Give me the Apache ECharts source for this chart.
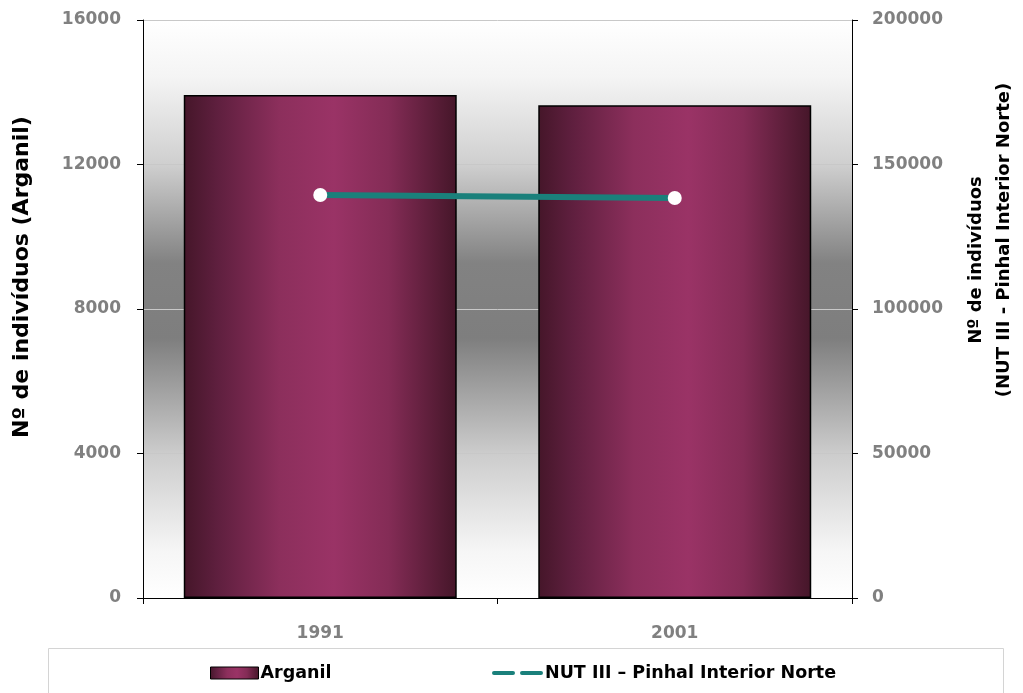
<!DOCTYPE html>
<html>
<head>
<meta charset="utf-8">
<script src="https://cdn.jsdelivr.net/npm/echarts@6/dist/echarts.min.js"></script>
<style>
  html, body { margin: 0; padding: 0; background: #ffffff; }
  #chart { width: 1023px; height: 693px; }
</style>
</head>
<body>
<div id="chart"></div>
<script>
// Census years and population counts
const years = ['1991', '2001'];
const arganil = [13926, 13640];               // left axis
const pinhalInteriorNorte = [139450, 138400]; // right axis
const leftTicks = { min: 0, max: 16000, interval: 4000 };
const rightTicks = { min: 0, max: 200000, interval: 50000 };

const chart = echarts.init(document.getElementById('chart'));

const barFill = new echarts.graphic.LinearGradient(0, 0, 1, 0, [
  { offset: 0, color: '#451629' },
  { offset: 0.12, color: '#5e1f3e' },
  { offset: 0.35, color: '#8c2f5c' },
  { offset: 0.55, color: '#9a3366' },
  { offset: 0.75, color: '#842c56' },
  { offset: 1, color: '#451629' }
]);

const plotFill = new echarts.graphic.LinearGradient(0, 0, 0, 1, [
  { offset: 0, color: '#ffffff' },
  { offset: 0.1, color: '#f4f4f4' },
  { offset: 0.25, color: '#cfcfcf' },
  { offset: 0.42, color: '#828282' },
  { offset: 0.55, color: '#7e7e7e' },
  { offset: 0.75, color: '#cccccc' },
  { offset: 0.92, color: '#f6f6f6' },
  { offset: 1, color: '#ffffff' }
]);

const tickFont = { color: '#808080', fontFamily: 'DejaVu Sans', fontWeight: 'bold', fontSize: 17 };
const plain = v => String(v);
const titleStyle = (text, size) => ({
  text, align: 'center', verticalAlign: 'middle',
  fill: '#000000', fontFamily: 'DejaVu Sans', fontWeight: 'bold', fontSize: size
});
const legendText = { color: '#000', fontFamily: 'DejaVu Sans', fontWeight: 'bold', fontSize: 17.5, padding: [0, 0, 0, -3] };

chart.setOption({
  animation: false,
  backgroundColor: '#ffffff',
  grid: {
    left: 143, right: 171, top: 20, bottom: 95,
    show: true, backgroundColor: plotFill, borderWidth: 0
  },
  legend: [
    {
      left: 210, top: 664, padding: 0,
      itemWidth: 48, itemHeight: 12,
      textStyle: legendText,
      data: [{ name: 'Arganil', icon: 'rect', itemStyle: { color: barFill, borderColor: '#000', borderWidth: 1 } }]
    },
    {
      left: 492, top: 664, padding: 0,
      itemWidth: 51, itemHeight: 5,
      textStyle: legendText,
      data: [{
        name: 'NUT III – Pinhal Interior Norte',
        icon: 'path://M2,0 L21,0 A2,2 0 0 1 21,4 L2,4 A2,2 0 0 1 2,0 Z M30,0 L49,0 A2,2 0 0 1 49,4 L30,4 A2,2 0 0 1 30,0 Z',
        itemStyle: { color: '#1a807b', borderWidth: 0 }
      }]
    }
  ],
  graphic: [
    {
      type: 'rect', silent: true, z: -1,
      shape: { x: 48.5, y: 648.5, width: 955, height: 60 },
      style: { fill: '#ffffff', stroke: '#d4d4d4', lineWidth: 1 }
    },
    { type: 'text', rotation: Math.PI / 2, x: 22, y: 277, style: titleStyle('Nº de indivíduos (Arganil)', 22) },
    { type: 'text', rotation: Math.PI / 2, x: 976, y: 260, style: titleStyle('Nº de indivíduos', 18) },
    { type: 'text', rotation: Math.PI / 2, x: 1004, y: 240, style: titleStyle('(NUT III - Pinhal Interior Norte)', 18) }
  ],
  xAxis: {
    type: 'category',
    data: years,
    axisLine: { lineStyle: { color: '#000', width: 1 } },
    axisTick: { show: true, alignWithLabel: false, length: 6, lineStyle: { color: '#000' } },
    axisLabel: Object.assign({ margin: 27 }, tickFont),
    splitLine: { show: false }
  },
  yAxis: [
    {
      type: 'value', position: 'left',
      min: leftTicks.min, max: leftTicks.max, interval: leftTicks.interval,
      axisLine: { show: true, lineStyle: { color: '#000', width: 1 } },
      axisTick: { show: true, length: 6, lineStyle: { color: '#000' } },
      axisLabel: Object.assign({ margin: 22, formatter: plain }, tickFont),
      splitLine: { show: true, lineStyle: { color: '#c8c8c8', width: 1 } }
    },
    {
      type: 'value', position: 'right',
      min: rightTicks.min, max: rightTicks.max, interval: rightTicks.interval,
      axisLine: { show: true, lineStyle: { color: '#000', width: 1 } },
      axisTick: { show: true, length: 6, lineStyle: { color: '#000' } },
      axisLabel: Object.assign({ margin: 20, formatter: plain }, tickFont),
      splitLine: { show: false }
    }
  ],
  series: [
    {
      name: 'Arganil',
      type: 'bar',
      yAxisIndex: 0,
      data: arganil,
      barCategoryGap: '23%',
      itemStyle: { color: barFill, borderColor: '#000', borderWidth: 1.5 }
    },
    {
      name: 'NUT III – Pinhal Interior Norte',
      type: 'line',
      yAxisIndex: 1,
      data: pinhalInteriorNorte,
      symbol: 'circle',
      symbolSize: 14,
      lineStyle: { color: '#1a807b', width: 6 },
      itemStyle: { color: '#ffffff', borderWidth: 0 },
      z: 5
    }
  ]
});
</script>
</body>
</html>
